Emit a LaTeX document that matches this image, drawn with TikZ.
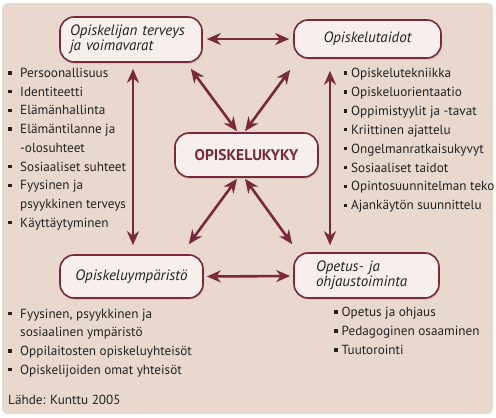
\documentclass[tikz,border=0pt]{standalone}
\usepackage{fontspec}
\setmainfont{PT Sans}
\usetikzlibrary{arrows.meta,shadows}
\definecolor{viini}{HTML}{7A283A}
\definecolor{pohja}{HTML}{E8D8CE}
\definecolor{laatikkovari}{HTML}{F6EFEB}
\definecolor{teksti}{HTML}{222222}
\newcommand{\itm}[1][12pt]{\makebox[#1][l]{\rule[2.8pt]{3.4pt}{3.4pt}}}
\newcommand{\jatko}[1][12pt]{\hspace*{#1}}
\tikzset{
  laatikko/.style={draw=viini, line width=1.6pt, fill=laatikkovari, rounded corners=14pt,
    drop shadow={opacity=0.18, shadow xshift=1pt, shadow yshift=-2pt},
    font=\fontsize{15}{15}\selectfont\itshape, text=teksti, align=left, inner sep=0pt},
  nuoli/.style={draw=viini, line width=2.6pt, {Stealth[length=14pt,width=12pt,inset=4.5pt]}-{Stealth[length=14pt,width=12pt,inset=4.5pt]}},
  rivi/.style={anchor=base west, inner sep=0pt, text=teksti, font=\fontsize{13.2}{15}\selectfont}
}
\begin{document}
\begin{tikzpicture}[x=1pt,y=-1pt]
\useasboundingbox (0,0) rectangle (496,418);
\fill[pohja, rounded corners=6pt] (2,3) rectangle (493,414);
% laatikot
\node[laatikko, minimum width=142pt, minimum height=45pt, text width=122pt] (terveys) at (131,39.5) {Opiskelijan terveys\\ja voimavarat};
\node[laatikko, minimum width=147pt, minimum height=38pt] (taidot) at (367.5,39) {Opiskelutaidot};
\node[laatikko, minimum width=143pt, minimum height=44pt, font=\fontsize{15.5}{16}\selectfont\bfseries, text=viini] (kyky) at (246.5,155) {OPISKELUKYKY};
\node[laatikko, minimum width=143pt, minimum height=43pt] (ymparisto) at (131.5,276.5) {Opiskeluympäristö};
\node[laatikko, minimum width=145pt, minimum height=45pt, text width=101pt] (opetus) at (366.5,275.5) {Opetus- ja\\ohjaustoiminta};
% nuolet
\draw[nuoli] ([xshift=4pt,yshift=0.5pt]terveys.east) -- ([xshift=-4pt]taidot.west);
\draw[nuoli] ([xshift=3pt]ymparisto.east) -- ([xshift=-3pt,yshift=-0.5pt]opetus.west);
\draw[nuoli] ([xshift=2pt,yshift=-6pt]terveys.south) -- ([xshift=1.5pt,yshift=9pt]ymparisto.north);
\draw[nuoli] ([xshift=-37.5pt,yshift=-12pt]taidot.south) -- ([xshift=-36.5pt,yshift=7pt]opetus.north);
\draw[nuoli] ([xshift=-12pt,yshift=-6pt]terveys.south east) -- ([xshift=-9.5pt,yshift=1pt]kyky.north);
\draw[nuoli] ([xshift=-3pt,yshift=-11pt]taidot.south west) -- ([xshift=-1.5pt,yshift=1pt]kyky.north);
\draw[nuoli] ([xshift=-9.5pt,yshift=-1pt]kyky.south) -- ([xshift=-15pt,yshift=10pt]ymparisto.north east);
\draw[nuoli] ([xshift=-1.5pt,yshift=-1pt]kyky.south) -- ([xshift=-1pt,yshift=8pt]opetus.north west);
% listat
\foreach \t [count=\i] in {\itm Persoonallisuus, \itm Identiteetti, \itm Elämänhallinta, \itm Elämäntilanne ja, \jatko -olosuhteet, \itm Sosiaaliset suhteet, \itm Fyysinen ja, \jatko psyykkinen terveys, \itm Käyttäytyminen}
  \node[rivi] (terveys-\i) at (8,{77.5+18.7*(\i-1)}) {\t};
\foreach \t [count=\i] in {Opiskelutekniikka, Opiskeluorientaatio, Oppimistyylit ja -tavat, Kriittinen ajattelu, Ongelmanratkaisukyvyt, Sosiaaliset taidot, Opintosuunnitelman teko, Ajankäytön suunnittelu}
  \node[rivi] (taidot-\i) at (343.5,{77.5+18.9*(\i-1)}) {\itm[7.5pt]\t};
\foreach \t [count=\i] in {{\itm Fyysinen, psyykkinen ja}, \jatko sosiaalinen ympäristö, \itm Oppilaitosten opiskeluyhteisöt, \itm Opiskelijoiden omat yhteisöt}
  \node[rivi] (ymparisto-\i) at (8,{318+18.7*(\i-1)}) {\t};
\foreach \t [count=\i] in {Opetus ja ohjaus, Pedagoginen osaaminen, Tuutorointi}
  \node[rivi] (opetus-\i) at (334,{316.5+19*(\i-1)}) {\itm[7.5pt]\t};
\node[rivi] (lahde) at (8,404) {Lähde: Kunttu 2005};
\end{tikzpicture}
\end{document}
